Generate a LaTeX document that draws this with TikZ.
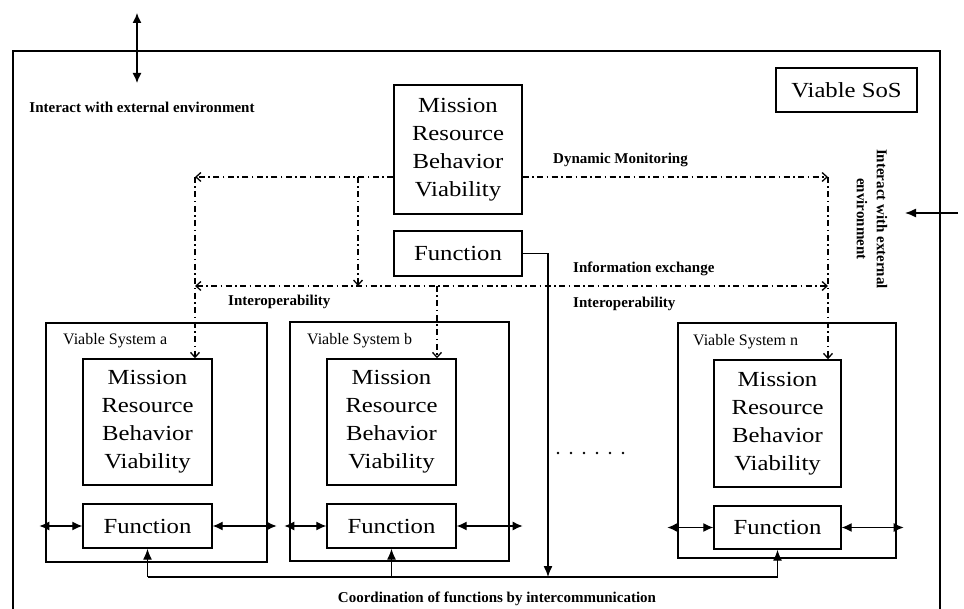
\documentclass[tikz,border=0pt]{standalone}
\usepackage{fontspec}
\setmainfont{Liberation Serif}
\newfontfamily\boxfont[FakeStretch=1.15]{Liberation Serif}
\usetikzlibrary{arrows.meta,positioning}

\begin{document}
\begin{tikzpicture}[x=1pt,y=-1pt,
  box/.style={draw,line width=1.4pt,inner sep=0pt,align=center,font=\boxfont\fontsize{21.5}{28}\selectfont},
  sysbox/.style={draw,line width=1.2pt,inner sep=0pt},
  lbl/.style={inner sep=0pt,font=\fontsize{15}{20}\selectfont\bfseries},
  syslbl/.style={inner sep=0pt,anchor=west,font=\fontsize{16}{18}\selectfont},
  ddash/.style={line width=1.3pt,dash pattern=on 6pt off 3.5pt on 1.5pt off 3.5pt},
  dtip/.style={-{Straight Barb[length=5pt,width=9pt]}},
  dboth/.style={{Straight Barb[length=5pt,width=9pt]}-{Straight Barb[length=5pt,width=9pt]}},
  ftip/.style={line width=1.3pt,-{Latex[length=11pt,width=9pt]}},
  both/.style={line width=1.3pt,{Latex[length=10pt,width=9pt]}-{Latex[length=10pt,width=9pt]}}
]
\useasboundingbox (0,0) rectangle (964,609);

% frame of the SoS
\draw [line width=2pt] (13,609) -- (13,51) -- (940,51) -- (940,609);
\node[box,minimum width=141,minimum height=44] (sos) at (846.5,90) {Viable SoS};

% SoS level
\node[box,minimum width=128,minimum height=129] (mtop) at (458,149.5) {Mission\\Resource\\Behavior\\Viability};
\node[box,minimum width=128,minimum height=45] (ftop) at (458,253.5) {Function};

% viable system a
\node[sysbox,minimum width=221,minimum height=239] (sa) at (156.5,442.5) {};
\node[syslbl] (la) at (63,341) {Viable System a};
\node[box,minimum width=129,minimum height=126] (ma) at (147.5,422) {Mission\\Resource\\Behavior\\Viability};
\node[box,minimum width=129,minimum height=44] (fa) at (147.5,526) {Function};

% viable system b
\node[sysbox,minimum width=219,minimum height=239] (sb) at (399.5,441.5) {};
\node[syslbl] (lb) at (307,341) {Viable System b};
\node[box,minimum width=129,minimum height=126] (mb) at (391.5,422) {Mission\\Resource\\Behavior\\Viability};
\node[box,minimum width=129,minimum height=44] (fb) at (391.5,526) {Function};

% viable system n
\node[sysbox,minimum width=218,minimum height=235] (sn) at (787,440.5) {};
\node[syslbl] (ln) at (693,342) {Viable System n};
\node[box,minimum width=127,minimum height=127] (mn) at (777.5,423.5) {Mission\\Resource\\Behavior\\Viability};
\node[box,minimum width=127,minimum height=43] (fn) at (777.5,527.5) {Function};

\foreach \i in {0,...,5}
  \fill (558+13*\i,453) circle (1.4);

% labels
\node[lbl] (envtxt) at (142,107) {Interact with external environment};
\node[lbl,rotate=-90,align=center] (envside) at (872,219) {Interact with external\\environment};
\node[lbl,anchor=west] (dm) at (553,160) {Dynamic Monitoring};
\node[lbl,anchor=west] (ie) at (573,269) {Information exchange};
\node[lbl,anchor=west] (ioa) at (228,302) {Interoperability};
\node[lbl,anchor=west] (iob) at (573,304) {Interoperability};
\node[lbl] (coord) at (497,599) {Coordination of functions by intercommunication};

\coordinate (envtop) at (137,13);
\coordinate (envbot) at (137,83);
\coordinate (extR) at (958,213);
\coordinate (extL) at (905,213);
\coordinate (dmL) at (195,177);
\coordinate (dmR) at (828,177);
\coordinate (dmM) at (358,177);
\coordinate (ieL) at (195,286);
\coordinate (ieR) at (828,286);
\coordinate (ieB) at (437,286);
\coordinate (bus) at (548,577);

% environment
\draw [both] (envtop) -- (envbot);
\draw [ftip] (extR) -- (extL);

% monitoring and information exchange
\draw [ddash,dtip] (mtop.west |- dmL) -- (dmL);
\draw [ddash,dtip] (mtop.east |- dmR) -- (dmR);
\draw [ddash,dtip] (dmL) -- (ma.north -| dmL);
\draw [ddash,dtip] (dmR) -- (mn.north -| dmR);
\draw [ddash,dtip] (dmM) -- (dmM |- ieL);
\draw [ddash,dboth] (ieL) -- (ieR);
\draw [ddash,dtip] (ieB) -- (mb.north -| ieB);

% coordination of functions
\draw [ftip] (ftop.east) -| (bus);
\draw [line width=1.3pt] (fa.south |- bus) -- (fn.south |- bus);
\draw [ftip] (fa.south |- bus) -- (fa.south);
\draw [ftip] (fb.south |- bus) -- (fb.south);
\draw [ftip] (fn.south |- bus) -- (fn.south);

% interaction of each system
\draw [both] (fa.west) -- ++(-43,0);
\draw [both] (fa.east) -- ++(64,0);
\draw [both] (fb.west) -- ++(-42,0);
\draw [both] (fb.east) -- ++(66,0);
\draw [both] (fn.west) -- ++(-46,0);
\draw [both] (fn.east) -- ++(62,0);
\end{tikzpicture}
\end{document}
